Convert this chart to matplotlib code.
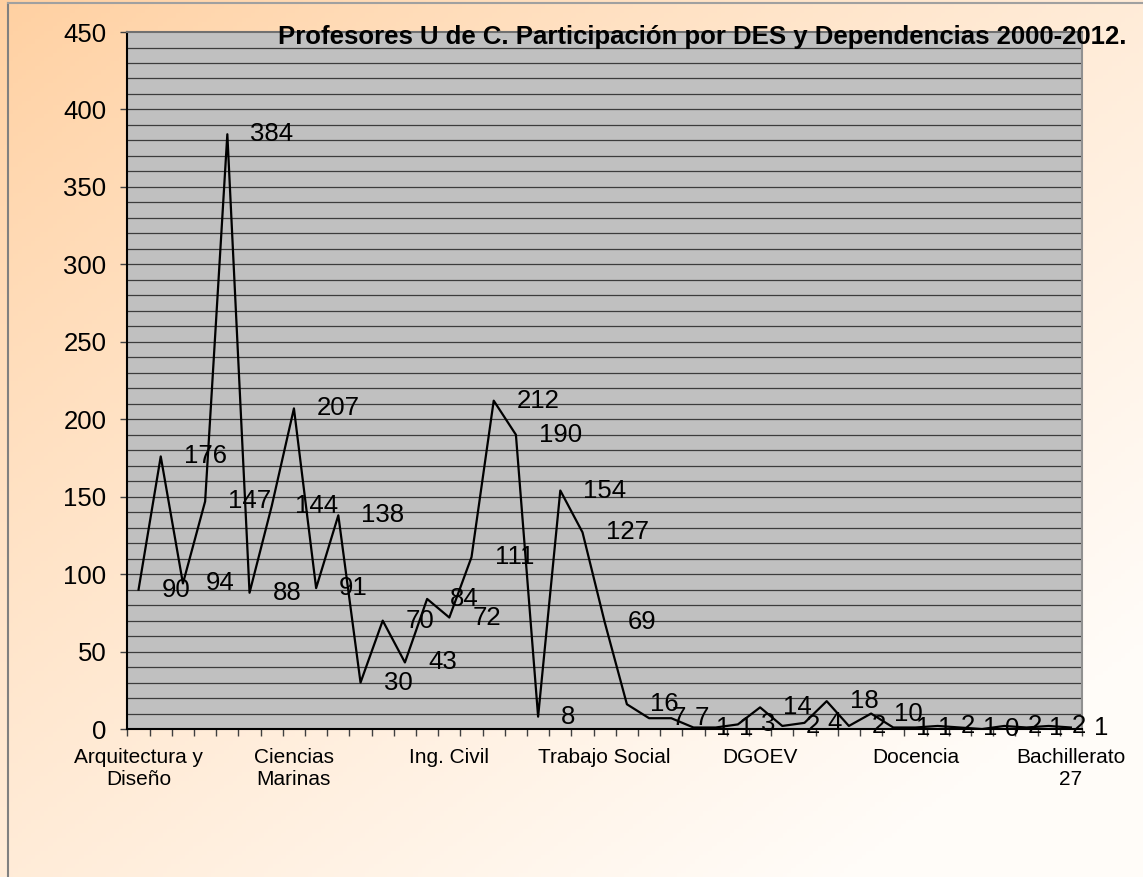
import numpy as np
import matplotlib
matplotlib.use('Agg')
from matplotlib import pyplot as plt
from matplotlib.lines import Line2D

plt.rcParams['font.family'] = ['Liberation Sans', 'DejaVu Sans']

# profesores por DES / dependencia (43 categorias, solo algunas rotuladas)
values = [90, 176, 94, 147, 384, 88, 144, 207, 91, 138,
          30, 70, 43, 84, 72, 111, 212, 190, 8, 154,
          127, 69, 16, 7, 7, 1, 1, 3, 14, 2,
          4, 18, 2, 10, 1, 1, 2, 1, 0, 2,
          1, 2, 1]
label_pos = [0, 7, 14, 21, 28, 35, 42]
label_names = ['Arquitectura y\nDiseño', 'Ciencias\nMarinas', 'Ing. Civil',
               'Trabajo Social', 'DGOEV', 'Docencia', 'Bachillerato\n27']
y_ticks = [0, 50, 100, 150, 200, 250, 300, 350, 400, 450]
title = 'Profesores U de C. Participación por DES y Dependencias 2000-2012.'

fig = plt.figure(figsize=(11.43, 8.77), dpi=100)

# fondo degradado naranja -> blanco
bg = fig.add_axes([0, 0, 1, 1], zorder=-10)
h, w = 200, 260
yy, xx = np.mgrid[0:h, 0:w]
t = np.clip(0.55 * xx / w + 0.55 * yy / h + 0.05, 0, 1) ** 0.8
orange = np.array([255, 204, 153]) / 255.0
white = np.array([255, 252, 248]) / 255.0
img = orange[None, None, :] * (1 - t[..., None]) + white[None, None, :] * t[..., None]
bg.imshow(img, aspect='auto', extent=[0, 1, 0, 1], origin='upper')
bg.set_axis_off()

# marco
fig.add_artist(Line2D([0.007, 0.007], [0, 0.997], color='#808080', lw=1.5))
fig.add_artist(Line2D([0.007, 1.0], [0.997, 0.997], color='#a0a0a0', lw=1.5))

ax = fig.add_axes([0.1115, 0.1687, 0.8351, 0.7948])
ax.set_facecolor('#c0c0c0')
x = np.arange(len(values))
ax.plot(x, values, color='black', lw=1.6, zorder=3)

for xi, v in zip(x, values):
    ax.annotate(str(v), (xi, v), xytext=(23, 0), textcoords='offset pixels',
                ha='left', va='center', fontsize=18.5, color='black',
                annotation_clip=False, zorder=4)

ax.set_xlim(-0.5, len(values) - 0.5)
ax.set_ylim(0, 450)
ax.set_yticks(y_ticks)
ax.tick_params(axis='y', labelsize=18.5, length=5, width=1, pad=10, color='#404040')
for gy in range(10, 450, 10):
    ax.axhline(gy, color='#3c3c3c', lw=0.9, zorder=1)

ax.set_xticks(label_pos)
ax.set_xticklabels(label_names, fontsize=15)
ax.tick_params(axis='x', length=0, pad=14)
ax.set_xticks(np.arange(-0.5, len(values), 1), minor=True)
ax.tick_params(axis='x', which='minor', length=5, width=1, color='#404040')

ax.spines['left'].set_color('black')
ax.spines['left'].set_linewidth(1.5)
ax.spines['bottom'].set_color('black')
ax.spines['bottom'].set_linewidth(1.5)
ax.spines['top'].set_color('#707070')
ax.spines['top'].set_linewidth(1.5)
ax.spines['right'].set_color('#909090')
ax.spines['right'].set_linewidth(1.5)

fig.text(0.986, 0.958, title, ha='right', va='center', fontsize=18.5,
         fontweight='bold', color='black', zorder=5)

fig.savefig('out.png', dpi=100)
